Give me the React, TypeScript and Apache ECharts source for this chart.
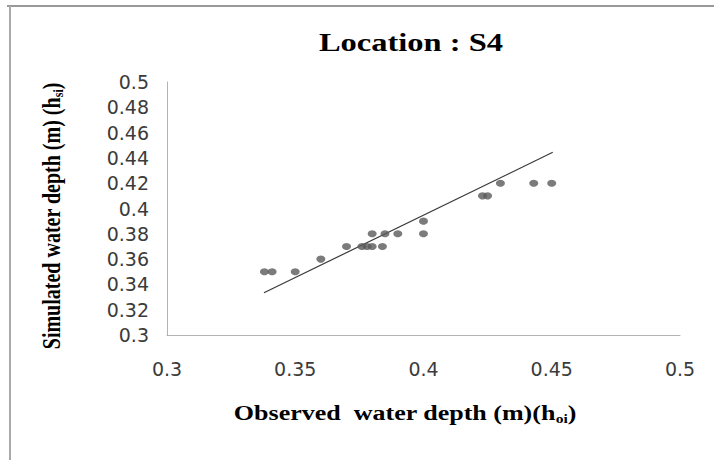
import React, { useEffect, useRef } from "react";
import * as echarts from "echarts";

// Observed (x) vs simulated (y) water depth, metres
const observedDepth = [0.338, 0.341, 0.35, 0.36, 0.37, 0.376, 0.378, 0.38, 0.384, 0.38, 0.385, 0.39, 0.4, 0.4, 0.423, 0.425, 0.43, 0.443, 0.45];
const simulatedDepth = [0.35, 0.35, 0.35, 0.36, 0.37, 0.37, 0.37, 0.37, 0.37, 0.38, 0.38, 0.38, 0.38, 0.39, 0.41, 0.41, 0.42, 0.42, 0.42];
// Linear trend line end points
const trendX = [0.3378, 0.4504];
const trendY = [0.3334, 0.4444];

const xTicks = { min: 0.3, max: 0.5, interval: 0.05 };
const yTicks = { min: 0.3, max: 0.5, interval: 0.02 };

const titleText = "Location : S4";
const xTitle = "Observed  water depth (m)(h";
const xSub = "oi";
const yTitle = "Simulated water depth (m) (h";
const ySub = "si";

const SERIF = "'Liberation Serif', 'Times New Roman', serif";
const SANS = "'DejaVu Sans', Verdana, sans-serif";

export default function App() {
  const ref = useRef<HTMLDivElement>(null);
  useEffect(() => {
    if (!ref.current) return;
    const chart = echarts.init(ref.current, undefined, { renderer: "svg" });
    const pts = observedDepth.map((x, i) => [x, simulatedDepth[i]]);
    const trend = trendX.map((x, i) => [x, trendY[i]]);
    const richMain = (fs: number) => ({
      m: { fontFamily: SERIF, fontWeight: "bold", fontSize: fs, lineHeight: fs + 4, fill: "#000", verticalAlign: "bottom" },
      s: { fontFamily: SERIF, fontWeight: "bold", fontSize: Math.round(fs * 0.62), lineHeight: Math.round(fs * 0.62), fill: "#000", verticalAlign: "bottom", padding: [0, 0, -2, 0] },
    });
    chart.setOption({
      animation: false,
      backgroundColor: "#fff",
      grid: { left: 167, top: 82, width: 513, height: 253, containLabel: false },
      xAxis: {
        type: "value",
        min: xTicks.min,
        max: xTicks.max,
        interval: xTicks.interval,
        axisLine: { show: true, lineStyle: { color: "#b3b3b3", width: 1 } },
        axisTick: { show: false },
        splitLine: { show: false },
        axisLabel: { margin: 24, fontFamily: SANS, fontSize: 19, color: "#3b3b3b" },
      },
      yAxis: {
        type: "value",
        min: yTicks.min,
        max: yTicks.max,
        interval: yTicks.interval,
        axisLine: { show: true, lineStyle: { color: "#b3b3b3", width: 1 } },
        axisTick: { show: false },
        splitLine: { show: false },
        axisLabel: { margin: 18, fontFamily: SANS, fontSize: 19, color: "#3b3b3b" },
      },
      series: [
        {
          type: "line",
          data: trend,
          showSymbol: false,
          symbol: "none",
          lineStyle: { color: "#3a3a3a", width: 1.2 },
          silent: true,
          z: 1,
        },
        {
          type: "scatter",
          data: pts,
          symbol: "circle",
          symbolSize: [9, 7],
          itemStyle: { color: "#5a5a5a" },
          z: 2,
        },
      ],
      graphic: [
        { type: "line", shape: { x1: 7, y1: 6, x2: 714, y2: 6 }, style: { stroke: "#999", lineWidth: 2 } },
        { type: "line", shape: { x1: 10, y1: 6, x2: 10, y2: 460 }, style: { stroke: "#aaa", lineWidth: 2 } },
        {
          type: "group",
          x: 411,
          y: 42,
          scaleX: 1.3,
          children: [
            {
              type: "text",
              x: 0,
              y: 0,
              style: {
                text: titleText,
                fontFamily: SERIF,
                fontWeight: "bold",
                fontSize: 25,
                fill: "#000",
                textAlign: "center",
                textVerticalAlign: "middle",
              },
            },
          ],
        },
        {
          type: "group",
          x: 405,
          y: 411,
          scaleX: 1.3,
          children: [
            {
              type: "text",
              x: 0,
              y: 0,
              style: {
                text: `{m|${xTitle}}{s|${xSub}}{m|)}`,
                rich: richMain(20),
                textAlign: "center",
                textVerticalAlign: "middle",
              },
            },
          ],
        },
        {
          type: "group",
          x: 48,
          y: 216,
          scaleX: 1.3,
          children: [
            {
              type: "text",
              x: 0,
              y: 0,
              rotation: Math.PI / 2,
              style: {
                text: `{m|${yTitle}}{s|${ySub}}{m|)}`,
                rich: richMain(20),
                textAlign: "center",
                textVerticalAlign: "middle",
              },
            },
          ],
        },
      ],
    });
    return () => chart.dispose();
  }, []);
  return <div ref={ref} style={{ position: "absolute", left: 0, top: 0, width: 714, height: 460 }} />;
}
